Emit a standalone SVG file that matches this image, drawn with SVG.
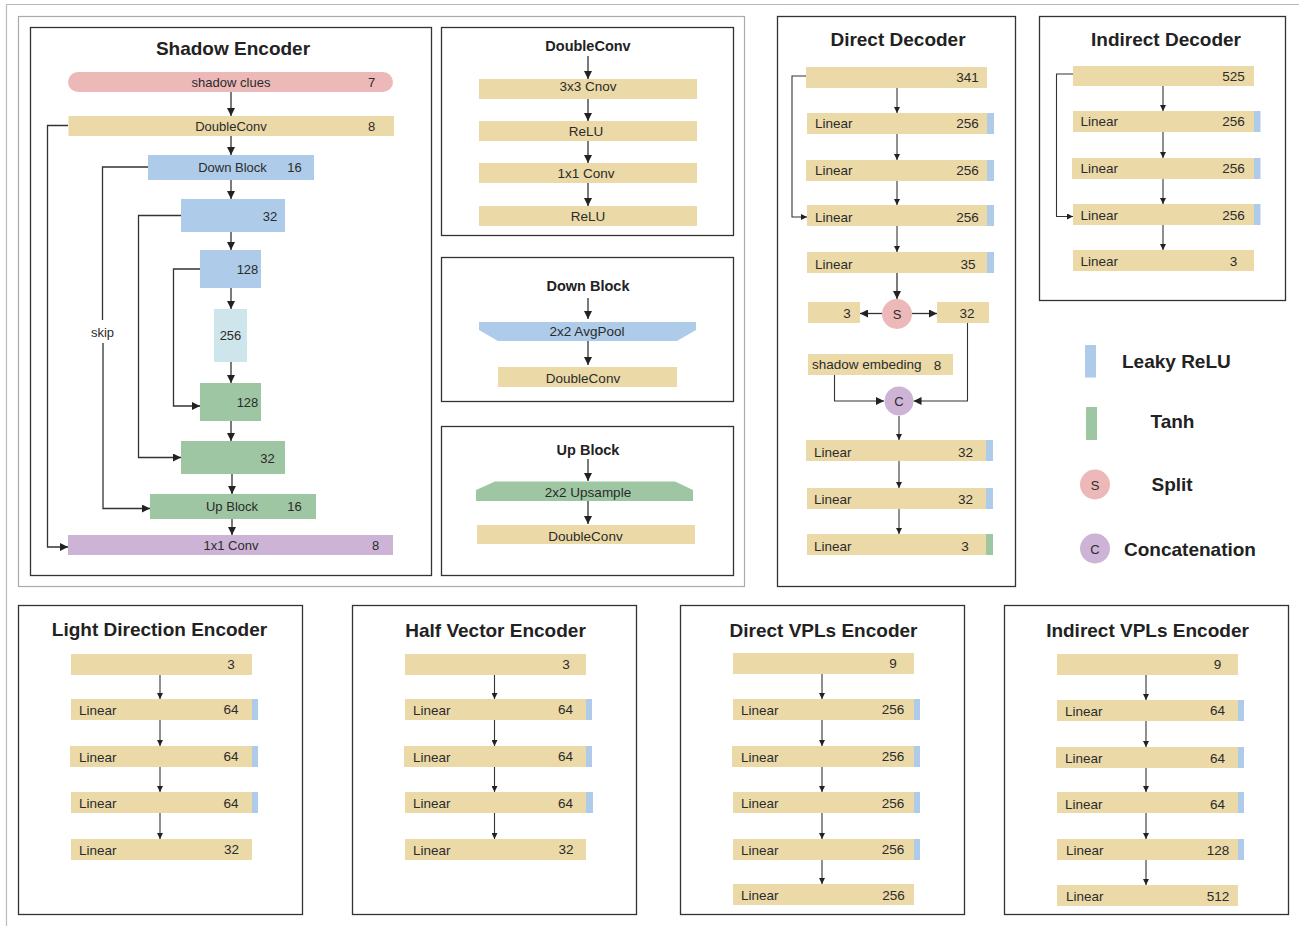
<svg xmlns="http://www.w3.org/2000/svg" width="1299" height="926" viewBox="0 0 1299 926">
<defs>
<style>
text{font-family:"Liberation Sans",Arial,sans-serif;fill:#2b2b2b}
.t{font-size:13.5px}
.s{font-size:13px}
.m{text-anchor:middle}
.title{font-size:19px;font-weight:bold;text-anchor:middle;fill:#222}
.sub{font-size:14.5px;font-weight:bold;text-anchor:middle;fill:#222}
.leg{font-size:19px;font-weight:bold;fill:#222}
.panel{fill:#fff;stroke:#333;stroke-width:1.3}
.tan{fill:#ecd9a8}
.blue{fill:#aecbe9}
.green{fill:#9ec6a2}
.pink{fill:#ecb9b8}
.purple{fill:#cdb3d6}
.cyan{fill:#cee5eb}
.c{fill:none;stroke:#333;stroke-width:1.3}
.cs{fill:none;stroke:#333;stroke-width:1.1}
.a{marker-end:url(#ah)}
.as{marker-end:url(#ahs)}
</style>
<marker id="ah" viewBox="0 0 10 10" refX="10" refY="5" markerWidth="9" markerHeight="8" markerUnits="userSpaceOnUse" orient="auto"><path d="M0,0 L10,5 L0,10 z" fill="#222"/></marker>
<marker id="ahs" viewBox="0 0 10 10" refX="10" refY="5" markerWidth="7" markerHeight="6" markerUnits="userSpaceOnUse" orient="auto"><path d="M0,0 L10,5 L0,10 z" fill="#222"/></marker>
</defs>
<rect width="1299" height="926" fill="#fff"/>
<path d="M6.5,926 V4.5 H1299" fill="none" stroke="#bbb" stroke-width="1.2"/>
<rect x="18.5" y="16.5" width="726" height="570" fill="none" stroke="#aaa" stroke-width="1.2"/>

<!-- Panels -->
<g id="panel-shadow-encoder"><rect class="panel" x="30.5" y="27.5" width="401" height="548"/><text class="title" x="233" y="55">Shadow Encoder</text></g>
<g id="panel-doubleconv"><rect class="panel" x="441.5" y="27.5" width="292" height="208"/><text class="sub" x="588" y="51">DoubleConv</text></g>
<g id="panel-downblock"><rect class="panel" x="441.5" y="257.5" width="292" height="144"/><text class="sub" x="588" y="291">Down Block</text></g>
<g id="panel-upblock"><rect class="panel" x="441.5" y="426.5" width="292" height="149"/><text class="sub" x="588" y="455">Up Block</text></g>
<g id="panel-direct-decoder"><rect class="panel" x="777.5" y="16.5" width="238" height="570"/><text class="title" x="898" y="46">Direct Decoder</text></g>
<g id="panel-indirect-decoder"><rect class="panel" x="1039.5" y="16.5" width="246" height="284"/><text class="title" x="1166" y="46">Indirect Decoder</text></g>
<g id="panel-light"><rect class="panel" x="18.5" y="605.5" width="284" height="309"/><text class="title" x="159.5" y="636">Light Direction Encoder</text></g>
<g id="panel-half"><rect class="panel" x="352.5" y="605.5" width="284" height="309"/><text class="title" x="495.5" y="637">Half Vector Encoder</text></g>
<g id="panel-dvpl"><rect class="panel" x="680.5" y="605.5" width="284" height="309"/><text class="title" x="823.5" y="637">Direct VPLs Encoder</text></g>
<g id="panel-ivpl"><rect class="panel" x="1004.5" y="605.5" width="284" height="309"/><text class="title" x="1147.5" y="637">Indirect VPLs Encoder</text></g>

<!-- Connectors -->
<g id="connectors">
<path class="c a" d="M231,92 V116"/>
<path class="c a" d="M231,136 V155"/>
<path class="c a" d="M231,180 V199"/>
<path class="c a" d="M231,232 V250"/>
<path class="c a" d="M231,288 V309"/>
<path class="c a" d="M231,362 V383"/>
<path class="c a" d="M231,421 V441"/>
<path class="c a" d="M232,474 V494"/>
<path class="c a" d="M232,519 V535"/>
<path class="c a" d="M68,125.5 H47.5 V547 H68"/>
<path class="c" d="M148,167 H102.5 V320"/>
<path class="c a" d="M103,343 V508.5 H150"/>
<path class="c a" d="M181,215.5 H138.5 V457.5 H181"/>
<path class="c a" d="M200,269 H173.5 V406 H200"/>
<path class="c a" d="M588,56 V79"/>
<path class="c a" d="M588,99 V121"/>
<path class="c a" d="M588,141 V163"/>
<path class="c a" d="M588,183 V206"/>
<path class="c a" d="M588,298 V319"/>
<path class="c a" d="M588,341 V365"/>
<path class="c a" d="M588,459 V481"/>
<path class="c a" d="M588,501 V524"/>
<path class="cs as" d="M897,88 V113"/>
<path class="cs as" d="M897,134 V160"/>
<path class="cs as" d="M897,181 V205"/>
<path class="cs as" d="M897,226 V252"/>
<path class="c a" d="M897,273 V299"/>
<path class="c a" d="M882,313.5 H860"/>
<path class="c a" d="M912,313.5 H937"/>
<path class="cs a" d="M834.5,375 V401 H884"/>
<path class="cs a" d="M967.5,323 V401 H913.5"/>
<path class="cs as" d="M899,416 V440"/>
<path class="cs as" d="M899,461 V488"/>
<path class="cs as" d="M899,509 V534"/>
<path class="cs as" d="M806,76 H792 V217 H807"/>
<path class="cs as" d="M1163,86 V111"/>
<path class="cs as" d="M1163,132 V158"/>
<path class="cs as" d="M1163,179 V204"/>
<path class="cs as" d="M1163,225 V250"/>
<path class="cs as" d="M1073,74 H1056.5 V216.5 H1073"/>
<path class="cs as" d="M160,675 V699"/>
<path class="cs as" d="M160,720 V746"/>
<path class="cs as" d="M160,767 V792"/>
<path class="cs as" d="M160,813 V839"/>
<path class="cs as" d="M494.5,675 V699"/>
<path class="cs as" d="M494.5,720 V746"/>
<path class="cs as" d="M494.5,767 V792"/>
<path class="cs as" d="M494.5,813 V839"/>
<path class="cs as" d="M822,674 V699"/>
<path class="cs as" d="M822,720 V746"/>
<path class="cs as" d="M822,767 V792"/>
<path class="cs as" d="M822,813 V839"/>
<path class="cs as" d="M822,860 V884"/>
<path class="cs as" d="M1146,675 V700"/>
<path class="cs as" d="M1146,721 V747"/>
<path class="cs as" d="M1146,768 V792"/>
<path class="cs as" d="M1146,813 V839"/>
<path class="cs as" d="M1146,860 V885"/>
</g>
<text class="s m" x="102.5" y="337">skip</text>

<!-- Shadow encoder nodes -->
<g id="se-clues"><rect class="pink" x="68" y="72" width="325" height="20" rx="10"/><text class="s m" x="231" y="87">shadow clues</text><text class="s m" x="371.5" y="87">7</text></g>
<g id="se-doubleconv"><rect class="tan" x="68.5" y="116" width="325.5" height="20"/><text class="s m" x="231" y="131">DoubleConv</text><text class="s m" x="371.5" y="131">8</text></g>
<g id="se-down16"><rect class="blue" x="148" y="155" width="166" height="25"/><text class="s m" x="232.5" y="172">Down Block</text><text class="s m" x="294.5" y="172">16</text></g>
<g id="se-down32"><rect class="blue" x="181" y="199" width="104" height="33"/><text class="s m" x="270" y="220.5">32</text></g>
<g id="se-down128"><rect class="blue" x="200" y="250" width="61" height="38"/><text class="s m" x="247.5" y="274">128</text></g>
<g id="se-256"><rect class="cyan" x="214" y="309" width="33" height="53"/><text class="s m" x="230.5" y="340">256</text></g>
<g id="se-up128"><rect class="green" x="200" y="383" width="61" height="38"/><text class="s m" x="247.5" y="407">128</text></g>
<g id="se-up32"><rect class="green" x="181" y="441" width="104" height="33"/><text class="s m" x="267.5" y="462.5">32</text></g>
<g id="se-up16"><rect class="green" x="150" y="494" width="166" height="25"/><text class="s m" x="232" y="511">Up Block</text><text class="s m" x="294.5" y="511">16</text></g>
<g id="se-conv1x1"><rect class="purple" x="68" y="535" width="325" height="20"/><text class="s m" x="231" y="550">1x1 Conv</text><text class="s m" x="375.5" y="550">8</text></g>

<!-- DoubleConv panel nodes -->
<g id="dc-conv3"><rect class="tan" x="479" y="79" width="218" height="20"/><text class="t m" x="588" y="91">3x3 Cnov</text></g>
<g id="dc-relu1"><rect class="tan" x="479" y="121" width="218" height="20"/><text class="t m" x="586" y="135.5">ReLU</text></g>
<g id="dc-conv1"><rect class="tan" x="479" y="163" width="218" height="20"/><text class="t m" x="586" y="177.5">1x1 Conv</text></g>
<g id="dc-relu2"><rect class="tan" x="479" y="206" width="218" height="20"/><text class="t m" x="588" y="220.5">ReLU</text></g>
<g id="db-avgpool"><polygon class="blue" points="479,322 696,322 696,330 677,341 498,341 479,330"/><text class="t m" x="587" y="336">2x2 AvgPool</text></g>
<g id="db-doubleconv"><rect class="tan" x="498" y="367" width="179" height="20"/><text class="t m" x="583" y="383">DoubleConv</text></g>
<g id="ub-upsample"><polygon class="green" points="495,481.5 675,481.5 693,490 693,501 476,501 476,490"/><text class="t m" x="588" y="497">2x2 Upsample</text></g>
<g id="ub-doubleconv"><rect class="tan" x="477" y="525" width="218" height="19"/><text class="t m" x="585.5" y="540.5">DoubleConv</text></g>

<!-- Direct decoder nodes -->
<g id="dd-in"><rect class="tan" x="806" y="67" width="181" height="21"/><text class="t m" x="967.5" y="82">341</text></g>
<g id="dd-l1"><rect class="tan" x="807" y="113" width="180" height="21"/><rect class="blue" x="987" y="113" width="7" height="21"/><text class="t" x="815" y="128">Linear</text><text class="t m" x="967.5" y="128">256</text></g>
<g id="dd-l2"><rect class="tan" x="806" y="160" width="181" height="21"/><rect class="blue" x="987" y="160" width="7" height="21"/><text class="t" x="815" y="175">Linear</text><text class="t m" x="967.5" y="175">256</text></g>
<g id="dd-l3"><rect class="tan" x="807" y="205" width="180" height="21"/><rect class="blue" x="987" y="205" width="7" height="21"/><text class="t" x="815" y="222">Linear</text><text class="t m" x="967.5" y="222">256</text></g>
<g id="dd-l4"><rect class="tan" x="807" y="252" width="180" height="21"/><rect class="blue" x="987" y="252" width="7" height="21"/><text class="t" x="815" y="269">Linear</text><text class="t m" x="968" y="269">35</text></g>
<g id="dd-split"><circle class="pink" cx="897" cy="314" r="15"/><text class="s m" x="897" y="319">S</text></g>
<g id="dd-out3"><rect class="tan" x="808" y="302" width="52" height="21"/><text class="t m" x="847" y="318">3</text></g>
<g id="dd-out32"><rect class="tan" x="937" y="302" width="52" height="21"/><text class="t m" x="967" y="318">32</text></g>
<g id="dd-shadow"><rect class="tan" x="808" y="354" width="145" height="21"/><text class="t" x="812" y="369">shadow embeding</text><text class="t m" x="937.5" y="370">8</text></g>
<g id="dd-concat"><circle class="purple" cx="899" cy="401" r="14.5"/><text class="s m" x="899" y="406">C</text></g>
<g id="dd-l5"><rect class="tan" x="806" y="440" width="180" height="21"/><rect class="blue" x="986" y="440" width="7" height="21"/><text class="t" x="814" y="457">Linear</text><text class="t m" x="965.5" y="457">32</text></g>
<g id="dd-l6"><rect class="tan" x="807" y="488" width="179" height="21"/><rect class="blue" x="986" y="488" width="7" height="21"/><text class="t" x="814" y="504">Linear</text><text class="t m" x="965.5" y="504">32</text></g>
<g id="dd-l7"><rect class="tan" x="807" y="534" width="179" height="21"/><rect class="green" x="986" y="534" width="7" height="21"/><text class="t" x="814" y="551">Linear</text><text class="t m" x="965" y="551">3</text></g>

<!-- Indirect decoder nodes -->
<g id="id-in"><rect class="tan" x="1073" y="66" width="181" height="20"/><text class="t m" x="1233.5" y="81">525</text></g>
<g id="id-l1"><rect class="tan" x="1073" y="111" width="181" height="21"/><rect class="blue" x="1254" y="111" width="6.5" height="21"/><text class="t" x="1080.5" y="126">Linear</text><text class="t m" x="1233.5" y="126">256</text></g>
<g id="id-l2"><rect class="tan" x="1072" y="158" width="182" height="21"/><rect class="blue" x="1254" y="158" width="6.5" height="21"/><text class="t" x="1080.5" y="173">Linear</text><text class="t m" x="1233.5" y="173">256</text></g>
<g id="id-l3"><rect class="tan" x="1073" y="204" width="181" height="21"/><rect class="blue" x="1254" y="204" width="6.5" height="21"/><text class="t" x="1080.5" y="220">Linear</text><text class="t m" x="1233.5" y="220">256</text></g>
<g id="id-l4"><rect class="tan" x="1073" y="250" width="181" height="21"/><text class="t" x="1080.5" y="266">Linear</text><text class="t m" x="1233.5" y="266">3</text></g>

<!-- Legend -->
<g id="legend-leaky"><rect class="blue" x="1085" y="345" width="11" height="32.5"/><text class="leg" x="1122" y="368">Leaky ReLU</text></g>
<g id="legend-tanh"><rect class="green" x="1086" y="407" width="11" height="33"/><text class="leg" x="1150.5" y="428">Tanh</text></g>
<g id="legend-split"><circle class="pink" cx="1095" cy="484.5" r="15"/><text class="s m" x="1095" y="489.5">S</text><text class="leg" x="1151.5" y="491">Split</text></g>
<g id="legend-concat"><circle class="purple" cx="1095" cy="548.5" r="15"/><text class="s m" x="1095" y="553.5">C</text><text class="leg" x="1124" y="556">Concatenation</text></g>

<!-- Light Direction Encoder -->
<g id="ld-in"><rect class="tan" x="71" y="654" width="181" height="21"/><text class="t m" x="231" y="669">3</text></g>
<g id="ld-l1"><rect class="tan" x="71" y="699" width="181" height="21"/><rect class="blue" x="252" y="699" width="6" height="21"/><text class="t" x="79" y="715">Linear</text><text class="t m" x="231" y="714">64</text></g>
<g id="ld-l2"><rect class="tan" x="70" y="746" width="182" height="21"/><rect class="blue" x="252" y="746" width="6" height="21"/><text class="t" x="79" y="762">Linear</text><text class="t m" x="231" y="761">64</text></g>
<g id="ld-l3"><rect class="tan" x="71" y="792" width="181" height="21"/><rect class="blue" x="252" y="792" width="6" height="21"/><text class="t" x="79" y="808">Linear</text><text class="t m" x="231" y="808">64</text></g>
<g id="ld-l4"><rect class="tan" x="71" y="839" width="181" height="21"/><text class="t" x="79" y="855">Linear</text><text class="t m" x="231.5" y="854">32</text></g>

<!-- Half Vector Encoder -->
<g id="hv-in"><rect class="tan" x="405" y="654" width="181" height="21"/><text class="t m" x="566" y="669">3</text></g>
<g id="hv-l1"><rect class="tan" x="405" y="699" width="181" height="21"/><rect class="blue" x="586" y="699" width="6" height="21"/><text class="t" x="413" y="715">Linear</text><text class="t m" x="565.5" y="714">64</text></g>
<g id="hv-l2"><rect class="tan" x="404" y="746" width="182" height="21"/><rect class="blue" x="586" y="746" width="6" height="21"/><text class="t" x="413" y="762">Linear</text><text class="t m" x="565.5" y="761">64</text></g>
<g id="hv-l3"><rect class="tan" x="405" y="792" width="181" height="21"/><rect class="blue" x="586" y="792" width="7" height="21"/><text class="t" x="413" y="808">Linear</text><text class="t m" x="565.5" y="808">64</text></g>
<g id="hv-l4"><rect class="tan" x="405" y="839" width="181" height="21"/><text class="t" x="413" y="855">Linear</text><text class="t m" x="566" y="854">32</text></g>

<!-- Direct VPLs Encoder -->
<g id="dv-in"><rect class="tan" x="733" y="653" width="181" height="21"/><text class="t m" x="893" y="668">9</text></g>
<g id="dv-l1"><rect class="tan" x="733" y="699" width="181" height="21"/><rect class="blue" x="914" y="699" width="6" height="21"/><text class="t" x="741" y="715">Linear</text><text class="t m" x="893" y="714">256</text></g>
<g id="dv-l2"><rect class="tan" x="732" y="746" width="182" height="21"/><rect class="blue" x="914" y="746" width="6" height="21"/><text class="t" x="741" y="762">Linear</text><text class="t m" x="893" y="761">256</text></g>
<g id="dv-l3"><rect class="tan" x="733" y="792" width="181" height="21"/><rect class="blue" x="914" y="792" width="6" height="21"/><text class="t" x="741" y="808">Linear</text><text class="t m" x="893" y="808">256</text></g>
<g id="dv-l4"><rect class="tan" x="733" y="839" width="181" height="21"/><rect class="blue" x="914" y="839" width="6" height="21"/><text class="t" x="741" y="855">Linear</text><text class="t m" x="893" y="854">256</text></g>
<g id="dv-l5"><rect class="tan" x="733" y="884" width="181" height="21"/><text class="t" x="741" y="900">Linear</text><text class="t m" x="893.5" y="900">256</text></g>

<!-- Indirect VPLs Encoder -->
<g id="iv-in"><rect class="tan" x="1057" y="654" width="181" height="21"/><text class="t m" x="1217.5" y="669">9</text></g>
<g id="iv-l1"><rect class="tan" x="1057" y="700" width="181" height="21"/><rect class="blue" x="1238" y="700" width="6" height="21"/><text class="t" x="1065" y="716">Linear</text><text class="t m" x="1217.5" y="715">64</text></g>
<g id="iv-l2"><rect class="tan" x="1056" y="747" width="182" height="21"/><rect class="blue" x="1238" y="747" width="6" height="21"/><text class="t" x="1065" y="763">Linear</text><text class="t m" x="1217.5" y="763">64</text></g>
<g id="iv-l3"><rect class="tan" x="1057" y="792" width="181" height="21"/><rect class="blue" x="1238" y="792" width="6" height="21"/><text class="t" x="1065" y="809">Linear</text><text class="t m" x="1217.5" y="809">64</text></g>
<g id="iv-l4"><rect class="tan" x="1057" y="839" width="181" height="21"/><rect class="blue" x="1238" y="839" width="6" height="21"/><text class="t" x="1066" y="855">Linear</text><text class="t m" x="1218" y="855">128</text></g>
<g id="iv-l5"><rect class="tan" x="1057" y="885" width="181" height="21"/><text class="t" x="1066" y="901">Linear</text><text class="t m" x="1218" y="901">512</text></g>
</svg>
